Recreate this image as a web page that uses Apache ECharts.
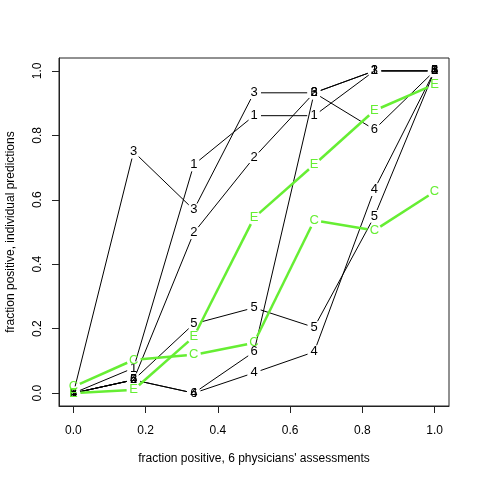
<!DOCTYPE html>
<html>
<head>
<meta charset="utf-8">
<script src="https://cdn.jsdelivr.net/npm/echarts@6/dist/echarts.min.js"></script>
<style>
  html, body { margin: 0; padding: 0; background: #fff; }
  #chart { width: 480px; height: 480px; }
</style>
</head>
<body>
<div id="chart"></div>
<script>
// x positions: fraction positive among 6 physicians
const xValues = [0, 1/6, 2/6, 3/6, 4/6, 5/6, 1];
// individual predictor series
const s1 = [0, 0.078, 0.709, 0.861, 0.861, 1, 1];
const s2 = [0, 0.041, 0.498, 0.731, 0.932, 1, 1];
const s3 = [0, 0.749, 0.569, 0.932, 0.932, 1, 1];
const s4 = [0, 0.041, 0, 0.063, 0.128, 0.632, 1];
const s5 = [0, 0.041, 0.215, 0.265, 0.204, 0.548, 1];
const s6 = [0, 0.041, 0, 0.128, 0.932, 0.818, 1];
const sC = [0.02, 0.103, 0.119, 0.156, 0.536, 0.505, 0.625];
const sE = [0, 0.010, 0.175, 0.544, 0.709, 0.877, 0.958];
const tickValues = [0, 0.2, 0.4, 0.6, 0.8, 1.0];

const FONT = '"Liberation Sans", Arial, Helvetica, sans-serif';
const GREEN = '#66ee33';
const GAP = 7;

function makeSeries(ys, label, color, width) {
  return {
    type: 'custom',
    clip: false,
    data: xValues.map((x, i) => [x, ys[i]]),
    encode: { x: 0, y: 1 },
    renderItem: function (params, api) {
      const i = params.dataIndex;
      const p = api.coord([xValues[i], ys[i]]);
      const children = [];
      if (i < xValues.length - 1) {
        const q = api.coord([xValues[i + 1], ys[i + 1]]);
        const dx = q[0] - p[0], dy = q[1] - p[1];
        const d = Math.hypot(dx, dy);
        if (d > 2 * GAP) {
          children.push({
            type: 'line',
            shape: {
              x1: p[0] + dx / d * GAP, y1: p[1] + dy / d * GAP,
              x2: q[0] - dx / d * GAP, y2: q[1] - dy / d * GAP
            },
            style: { stroke: color, lineWidth: width }
          });
        }
      }
      children.push({
        type: 'text',
        x: p[0], y: p[1],
        style: {
          text: label, fill: color, fontSize: 13, fontFamily: FONT,
          align: 'center', verticalAlign: 'middle'
        }
      });
      return { type: 'group', children: children };
    }
  };
}

const chart = echarts.init(document.getElementById('chart'), null, { renderer: 'canvas' });
chart.setOption({
  animation: false,
  backgroundColor: '#fff',
  grid: {
    left: 59, right: 31, top: 58, bottom: 74,
    containLabel: false, outerBoundsMode: 'none',
    show: true, borderColor: '#222', borderWidth: 1, backgroundColor: 'transparent'
  },
  xAxis: {
    type: 'value', min: -0.04, max: 1.04,
    name: "fraction positive, 6 physicians' assessments",
    nameLocation: 'middle', nameGap: 47,
    nameTextStyle: { color: '#000', fontSize: 12, fontFamily: FONT },
    axisLine: { show: true, onZero: false, lineStyle: { color: '#222', width: 1 } },
    splitLine: { show: false },
    axisTick: { show: true, inside: false, length: 7, customValues: tickValues, lineStyle: { color: '#222' } },
    axisLabel: {
      customValues: tickValues, color: '#000', fontSize: 12, fontFamily: FONT, margin: 19,
      formatter: v => v.toFixed(1)
    }
  },
  yAxis: {
    type: 'value', min: -0.04, max: 1.04,
    name: 'fraction positive, individual predictions',
    nameLocation: 'middle', nameGap: 42, nameRotate: 90,
    nameTextStyle: { color: '#000', fontSize: 12, fontFamily: FONT },
    axisLine: { show: true, onZero: false, lineStyle: { color: '#222', width: 1 } },
    splitLine: { show: false },
    axisTick: { show: true, inside: false, length: 7, customValues: tickValues, lineStyle: { color: '#222' } },
    axisLabel: {
      customValues: tickValues, rotate: 90, color: '#000', fontSize: 12, fontFamily: FONT, margin: 15,
      formatter: v => v.toFixed(1)
    }
  },
  series: [
    makeSeries(s1, '1', '#000', 1),
    makeSeries(s2, '2', '#000', 1),
    makeSeries(s3, '3', '#000', 1),
    makeSeries(s4, '4', '#000', 1),
    makeSeries(s5, '5', '#000', 1),
    makeSeries(s6, '6', '#000', 1),
    makeSeries(sC, 'C', GREEN, 2.5),
    makeSeries(sE, 'E', GREEN, 2.5)
  ]
});
</script>
</body>
</html>
